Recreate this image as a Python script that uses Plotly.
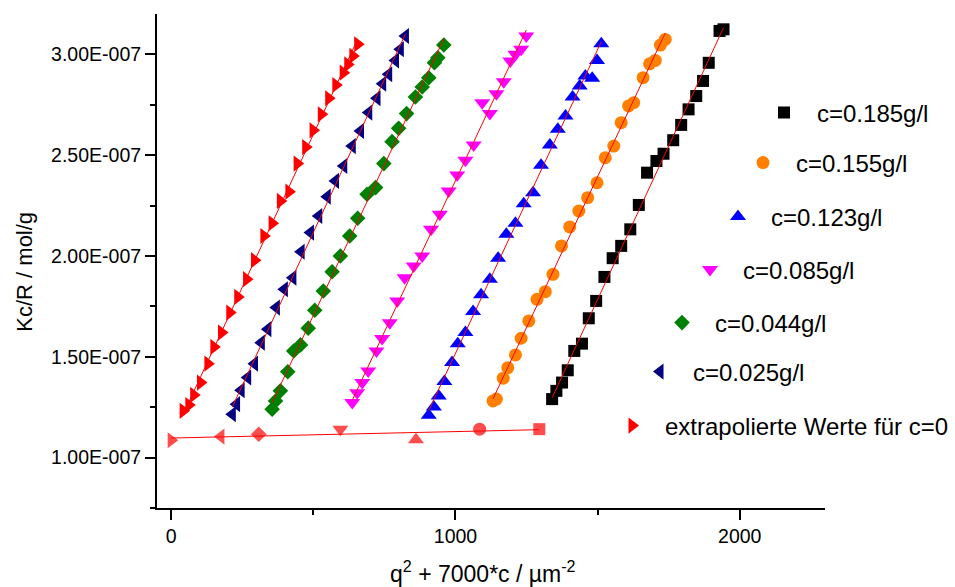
import numpy as np
import plotly.graph_objects as go

Y_UNIT = 1e-7  # y values below are given in units of 1e-7 mol/g

# c = 0.185 g/l (black squares)
x_185 = [1943, 1929, 1891, 1871, 1847, 1820, 1794, 1766, 1732, 1707, 1674, 1645,
         1615, 1583, 1553, 1524, 1495, 1469, 1445, 1418, 1395, 1375, 1355, 1340]
y_185 = [3.124, 3.116, 2.958, 2.868, 2.793, 2.727, 2.650, 2.574, 2.507, 2.471, 2.413, 2.253,
         2.132, 2.050, 1.989, 1.896, 1.777, 1.691, 1.565, 1.529, 1.433, 1.372, 1.331, 1.290]

# c = 0.155 g/l (orange circles)
x_155 = [1738, 1721, 1703, 1683, 1660, 1627, 1609, 1583, 1557, 1527, 1498, 1465, 1434,
         1402, 1373, 1343, 1316, 1287, 1258, 1231, 1211, 1184, 1168, 1144, 1132]
y_155 = [3.074, 3.046, 2.970, 2.953, 2.884, 2.760, 2.744, 2.661, 2.545, 2.487, 2.363, 2.289, 2.223,
         2.144, 2.050, 1.909, 1.823, 1.785, 1.678, 1.592, 1.509, 1.446, 1.394, 1.290, 1.281]

# c = 0.123 g/l (blue up-triangles)
x_123 = [1513, 1498, 1481, 1457, 1437, 1412, 1387, 1360, 1332, 1301, 1273, 1240, 1211,
         1179, 1150, 1121, 1090, 1062, 1035, 1008, 988, 961, 941, 924, 906]
y_123 = [3.053, 2.970, 2.881, 2.892, 2.843, 2.788, 2.694, 2.628, 2.550, 2.450, 2.314, 2.259, 2.162,
         2.108, 1.989, 1.885, 1.807, 1.724, 1.620, 1.565, 1.471, 1.377, 1.306, 1.251, 1.210]

# c = 0.085 g/l (magenta down-triangles)
x_085 = [1249, 1231, 1211, 1193, 1170, 1144, 1094, 1121, 1064, 1035, 1006, 976, 945,
         914, 883, 853, 821, 795, 769, 742, 722, 693, 672, 654, 637]
y_085 = [3.091, 3.025, 3.000, 2.967, 2.864, 2.805, 2.760, 2.706, 2.550, 2.475, 2.402, 2.322, 2.207,
         2.132, 2.000, 1.950, 1.892, 1.777, 1.669, 1.591, 1.529, 1.430, 1.372, 1.322, 1.273]

# c = 0.044 g/l (green diamonds)
x_044 = [959, 938, 926, 906, 883, 859, 828, 800, 777, 748, 719, 689, 656,
         628, 595, 566, 535, 505, 482, 455, 431, 410, 384, 367, 355]
y_044 = [3.046, 2.983, 2.958, 2.884, 2.838, 2.788, 2.706, 2.633, 2.567, 2.458, 2.339, 2.306, 2.187,
         2.099, 2.000, 1.922, 1.826, 1.731, 1.642, 1.559, 1.529, 1.426, 1.331, 1.281, 1.240]

# c = 0.025 g/l (navy left-triangles)
x_025 = [824, 806, 789, 765, 744, 724, 695, 666, 637, 607, 578, 549, 519,
         490, 457, 428, 398, 370, 340, 317, 293, 269, 246, 230, 215]
y_025 = [3.091, 3.025, 2.970, 2.901, 2.854, 2.782, 2.711, 2.620, 2.545, 2.446, 2.372, 2.294, 2.198,
         2.116, 2.021, 1.892, 1.835, 1.744, 1.637, 1.570, 1.466, 1.397, 1.334, 1.265, 1.215]

# extrapolated to c = 0 (red right-triangles)
x_c0 = [656, 639, 621, 605, 579, 554, 528, 499, 473, 443, 414, 384, 355,
        326, 293, 265, 234, 206, 177, 150, 129, 103, 79, 62, 42]
y_c0 = [3.050, 2.992, 2.950, 2.909, 2.848, 2.782, 2.703, 2.623, 2.540, 2.458, 2.319, 2.273, 2.162,
        2.099, 1.979, 1.885, 1.797, 1.719, 1.620, 1.549, 1.466, 1.372, 1.311, 1.261, 1.232]

# extrapolated to q = 0 for each concentration (bottom red points)
x_q0 = [0, 175, 308, 595, 861, 1085, 1295]
y_q0 = [1.086, 1.104, 1.116, 1.141, 1.088, 1.141, 1.141]
symbols_q0 = ["triangle-right", "triangle-left", "diamond", "triangle-down",
              "triangle-up", "circle", "square"]

labels = ["c=0.185g/l", "c=0.155g/l", "c=0.123g/l", "c=0.085g/l",
          "c=0.044g/l", "c=0.025g/l", "extrapolierte Werte für c=0"]
y_ticks = [1.0, 1.5, 2.0, 2.5, 3.0]
y_ticktext = ["1.00E-007", "1.50E-007", "2.00E-007", "2.50E-007", "3.00E-007"]

SIZES = {"square": 12, "circle": 13, "triangle-up": 14, "triangle-down": 14,
         "diamond": 12, "triangle-left": 14, "triangle-right": 14}

series = [
    (x_185, y_185, "square", "#000000"),
    (x_155, y_155, "circle", "#FF8000"),
    (x_123, y_123, "triangle-up", "#0000FF"),
    (x_085, y_085, "triangle-down", "#FF00FF"),
    (x_044, y_044, "diamond", "#008000"),
    (x_025, y_025, "triangle-left", "#000080"),
    (x_c0, y_c0, "triangle-right", "#FF0000"),
]

FONT = "Arial, 'Liberation Sans', sans-serif"
fig = go.Figure()

# legend placement (pixels in a 955x587 figure)
L, T, PW, PH = 157, 14, 668, 494
legend_left_px = [751, 730, 705, 677, 649, 627, 599]
legend_mid_px = [113, 163, 217, 270, 323, 372, 426]

for i, ((xs, ys, sym, col), lab) in enumerate(zip(series, labels)):
    lname = "legend" if i == 0 else f"legend{i+1}"
    fig.add_trace(go.Scatter(
        x=xs, y=[v * Y_UNIT for v in ys], mode="markers", name=lab,
        marker=dict(symbol=sym, color=col, size=SIZES[sym], line=dict(width=0)),
        legend=lname, showlegend=True))

fig.add_trace(go.Scatter(
    x=x_q0, y=[v * Y_UNIT for v in y_q0], mode="markers",
    marker=dict(symbol=symbols_q0, color="#FF0000",
                size=[SIZES[s] for s in symbols_q0], line=dict(width=0)),
    showlegend=False))

# linear fit lines
for xs, ys, *_ in series:
    xs_a = np.array(xs, float)
    p = np.polyfit(xs_a, np.array(ys, float), 1)
    xl = np.array([xs_a.min(), xs_a.max()])
    fig.add_trace(go.Scatter(x=xl, y=np.polyval(p, xl) * Y_UNIT, mode="lines",
                             line=dict(color="#FF0000", width=1), showlegend=False,
                             hoverinfo="skip"))
xq = np.array(x_q0, float)
pq = np.polyfit(xq, np.array(y_q0, float), 1)
xl = np.array([xq.min(), xq.max()])
fig.add_trace(go.Scatter(x=xl, y=np.polyval(pq, xl) * Y_UNIT, mode="lines",
                         line=dict(color="#FF0000", width=1), showlegend=False,
                         hoverinfo="skip"))

layout_legends = {}
for i in range(7):
    lname = "legend" if i == 0 else f"legend{i+1}"
    layout_legends[lname] = dict(
        x=(legend_left_px[i] - L) / PW, y=(T + PH - legend_mid_px[i]) / PH,
        xanchor="left", yanchor="middle", bgcolor="rgba(0,0,0,0)",
        font=dict(family=FONT, size=24, color="black"), itemwidth=56,
        borderwidth=0)

fig.update_layout(
    width=955, height=587,
    margin=dict(l=L, r=955 - L - PW, t=T, b=587 - T - PH, autoexpand=False),
    paper_bgcolor="white", plot_bgcolor="white",
    font=dict(family=FONT, color="black"),
    **layout_legends,
    xaxis=dict(range=[-50, 2300], tickmode="linear", tick0=0, dtick=1000,
               showline=True, linecolor="black", linewidth=2,
               ticks="outside", ticklen=10, tickwidth=2, tickcolor="black",
               minor=dict(ticks="outside", ticklen=5, tickwidth=2, tickcolor="black",
                          tick0=0, dtick=500),
               showgrid=False, zeroline=False, tickfont=dict(size=19.5, family=FONT)),
    yaxis=dict(range=[0.75 * Y_UNIT, 3.2 * Y_UNIT], tickmode="array",
               tickvals=[v * Y_UNIT for v in y_ticks], ticktext=y_ticktext,
               showline=True, linecolor="black", linewidth=2,
               ticks="outside", ticklen=10, tickwidth=2, tickcolor="black",
               minor=dict(ticks="outside", ticklen=5, tickwidth=2, tickcolor="black",
                          tickmode="linear", tick0=0.25 * Y_UNIT, dtick=0.5 * Y_UNIT),
               showgrid=False, zeroline=False, tickfont=dict(size=19.5, family=FONT)),
    annotations=[
        dict(text="q<sup>2</sup> + 7000*c / µm<sup>-2</sup>", xref="paper", yref="paper",
             x=(483 - L) / PW, y=(T + PH - 572) / PH, xanchor="center", yanchor="middle",
             showarrow=False, font=dict(size=23, family=FONT)),
        dict(text="Kc/R / mol/g", xref="paper", yref="paper",
             x=(25 - L) / PW, y=(T + PH - 271.7) / PH, xanchor="center", yanchor="middle",
             textangle=-90, showarrow=False, font=dict(size=22, family=FONT)),
    ],
)

fig.write_html("out.html")
